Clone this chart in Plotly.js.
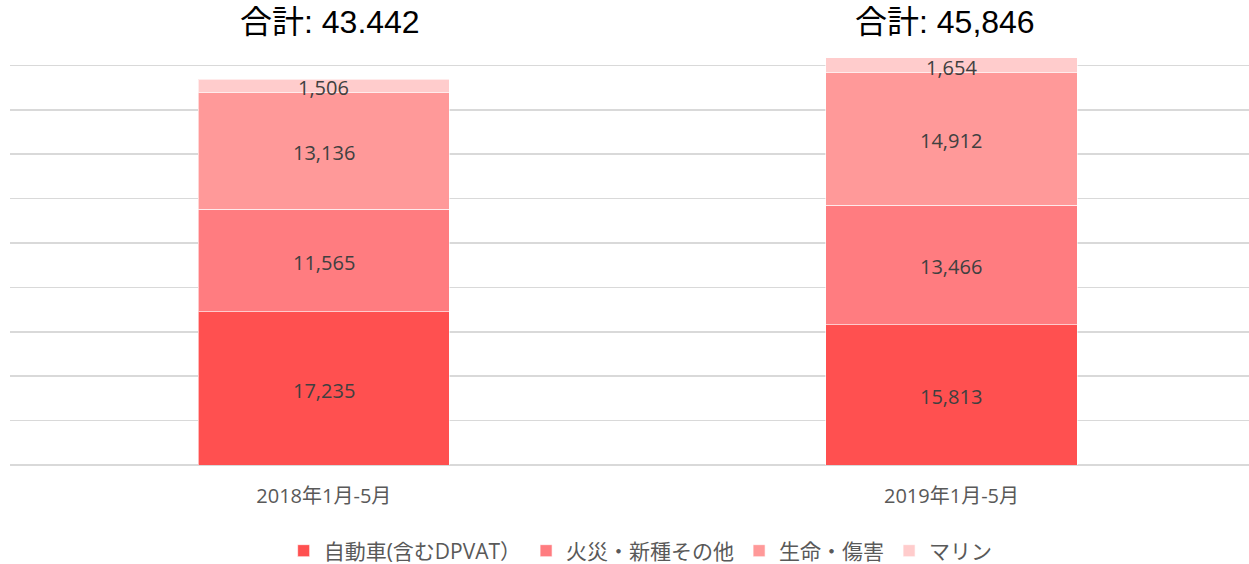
<!DOCTYPE html>
<html>
<head>
<meta charset="utf-8">
<script src="https://cdn.plot.ly/plotly-3.0.1.min.js"></script>
<style>html,body{margin:0;padding:0;background:#fff;}#chart{width:1249px;height:564px;}</style>
</head>
<body>
<div id="chart"></div>
<script>
const categories = ["2018年1月-5月", "2019年1月-5月"];
const seriesNames = ["自動車(含むDPVAT）", "火災・新種その他", "生命・傷害", "マリン"];
const auto = [17235, 15813];
const fire = [11565, 13466];
const life = [13136, 14912];
const marine = [1506, 1654];
const totalLabels = ["合計: 43.442", "合計: 45,846"];
const colors = ["#FF5050", "#FF7C80", "#FF9999", "#FFCCCC"];

const series = [auto, fire, life, marine];
const fmt = v => v.toLocaleString("en-US");
const font = "Open Sans, Noto Sans CJK JP, sans-serif";
const titleFont = "Liberation Sans, Arial, Noto Sans CJK JP, sans-serif";

const traces = series.map((vals, i) => ({
  type: "bar",
  name: seriesNames[i],
  x: categories,
  y: vals,
  width: 0.4,
  marker: {color: colors[i], line: {color: "rgba(255,255,255,0.6)", width: 1}},
  textposition: "none",
  hoverinfo: "skip"
}));

const annotations = [];
// segment labels at midpoints
categories.forEach((c, ci) => {
  let base = 0;
  series.forEach(vals => {
    annotations.push({
      x: c, y: base + vals[ci] / 2, xref: "x", yref: "y",
      text: fmt(vals[ci]), showarrow: false, yshift: -2,
      font: {family: font, size: 20, color: "#404040"}
    });
    base += vals[ci];
  });
});
categories.forEach((c, i) => {
  annotations.push({
    x: c, y: 50000, xref: "x", yref: "y",
    text: totalLabels[i], showarrow: false,
    xshift: i === 0 ? 6 : -6, yshift: -1,
    yanchor: "middle",
    font: {family: titleFont, size: 32, color: "#000000"}
  });
});

const layout = {
  width: 1249, height: 564,
  margin: {l: 10, r: 0, t: 21, b: 99},
  paper_bgcolor: "#ffffff", plot_bgcolor: "#ffffff",
  barmode: "stack",
  showlegend: true,
  legend: {
    orientation: "h", xref: "paper", x: 0.509, xanchor: "center",
    yref: "container", y: 0.023, yanchor: "middle",
    font: {family: font, size: 21, color: "#595959"},
    traceorder: "normal", itemclick: false, itemdoubleclick: false,
    tracegroupgap: 0, itemwidth: 30
  },
  xaxis: {
    type: "category", range: [-0.5, 1.474],
    showgrid: false, zeroline: false, showline: false, ticks: "",
    ticklabelstandoff: 17,
    tickfont: {family: font, size: 20, color: "#595959"},
    fixedrange: true, automargin: false
  },
  yaxis: {
    range: [0, 50000], dtick: 5000, showticklabels: false,
    showgrid: true, gridcolor: "#d9d9d9", gridwidth: 1.5,
    zeroline: true, zerolinecolor: "#d9d9d9", zerolinewidth: 1.5,
    showline: false, ticks: "", fixedrange: true, automargin: false
  },
  annotations: annotations
};

Plotly.newPlot("chart", traces, layout, {displayModeBar: false, staticPlot: true});
</script>
</body>
</html>
